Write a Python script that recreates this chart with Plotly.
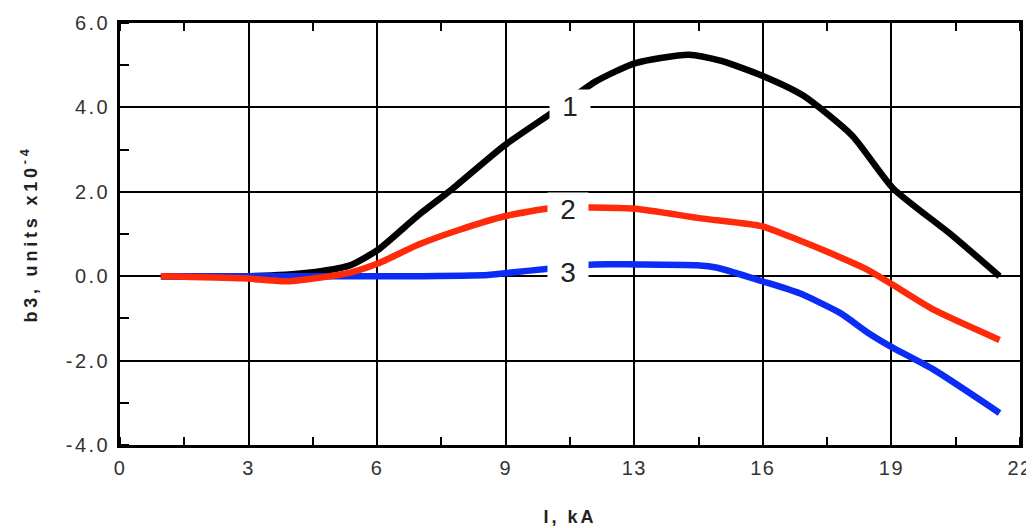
import plotly.graph_objects as go

# Curve 1 (black)
x_black = [1.0, 3.2, 4.6, 5.6, 6.3, 7.3, 8.1, 9.4, 10.6, 11.6, 12.6, 13.9, 14.7, 15.7, 16.7, 17.9, 18.9, 20.3, 21.5]
y_black = [0.0, 0.0, 0.08, 0.25, 0.62, 1.45, 2.05, 3.1, 3.9, 4.6, 5.05, 5.25, 5.1, 4.75, 4.28, 3.33, 2.08, 1.0, 0.0]

# Curve 2 (red)
x_red = [1.0, 3.0, 4.1, 5.6, 6.3, 7.3, 8.3, 9.4, 10.6, 11.5, 12.6, 14.2, 15.7, 16.6, 17.6, 18.3, 18.9, 19.9, 21.5]
y_red = [0.0, -0.05, -0.12, 0.08, 0.3, 0.75, 1.1, 1.42, 1.62, 1.63, 1.6, 1.37, 1.18, 0.85, 0.45, 0.14, -0.21, -0.8, -1.51]

# Curve 3 (blue)
x_blue = [1.0, 4.0, 5.5, 7.0, 9.0, 9.4, 10.6, 11.6, 12.6, 14.1, 14.6, 15.7, 16.6, 17.6, 18.3, 18.9, 19.9, 21.5]
y_blue = [0.0, 0.0, 0.0, 0.0, 0.03, 0.07, 0.19, 0.28, 0.28, 0.26, 0.2, -0.12, -0.4, -0.87, -1.35, -1.7, -2.22, -3.24]

# Axis ticks
x_tickvals = [i * 22 / 7 for i in range(8)]
x_ticktext = ["0", "3", "6", "9", "13", "16", "19", "22"]
y_tickvals = [-4, -2, 0, 2, 4, 6]
y_ticktext = ["-4.0", "-2.0", "0.0", "2.0", "4.0", "6.0"]

# Curve labels
label_text = ["1", "2", "3"]
label_x = [11.0, 10.95, 10.95]
label_y = [4.04, 1.6, 0.1]

FONT = "Liberation Sans, Arial, sans-serif"


def spaced(s, px):
    return f'<span style="letter-spacing:{px}px">{s}</span>'


fig = go.Figure()
for xs, ys, c in [(x_black, y_black, "#000000"), (x_blue, y_blue, "#0a2cf5"), (x_red, y_red, "#ff2a0a")]:
    fig.add_trace(go.Scatter(x=xs, y=ys, mode="lines",
                             line=dict(color=c, width=6.5, shape="spline", smoothing=0.6),
                             showlegend=False))

for t, xx, yy in zip(label_text, label_x, label_y):
    fig.add_annotation(x=xx, y=yy, text=t, showarrow=False, bgcolor="white",
                       width=38, height=30, font=dict(size=28, color="#222", family=FONT))

axis_font = dict(size=20, color="#333", family=FONT)
fig.update_layout(
    width=1026, height=520,
    margin=dict(l=112, r=14, t=15, b=83),
    plot_bgcolor="white", paper_bgcolor="white",
    font=dict(family=FONT, size=20, color="#333"),
    xaxis=dict(range=[0, 22], tickvals=x_tickvals,
               ticktext=[spaced(t, 1.5) for t in x_ticktext], ticks="",
               showgrid=True, gridcolor="black", gridwidth=1.5, zeroline=False,
               showline=True, linecolor="black", linewidth=2.5, mirror="ticks",
               automargin=False, ticklabelstandoff=3,
               minor=dict(tick0=0, dtick=11 / 7, ticks="inside", ticklen=8,
                          tickcolor="black", tickwidth=2, showgrid=False),
               tickfont=axis_font,
               title=dict(text="<b>" + spaced("I, kA", 3) + "</b>",
                          font=dict(size=18, color="#222", family=FONT), standoff=33)),
    yaxis=dict(range=[-4, 6], tickvals=y_tickvals,
               ticktext=[spaced(t, 2.5) for t in y_ticktext], ticks="",
               showgrid=True, gridcolor="black", gridwidth=1.5, zeroline=False,
               showline=True, linecolor="black", linewidth=2.5, mirror=True,
               automargin=False, ticklabelstandoff=3,
               minor=dict(tick0=-5, dtick=1, ticks="inside", ticklen=9,
                          tickcolor="black", tickwidth=2, showgrid=False),
               tickfont=axis_font,
               title=dict(text="<b>" + spaced("b3, units x10<sup>-4</sup>", 3.8) + "</b>",
                          font=dict(size=18, color="#222", family=FONT), standoff=24)),
)
fig.write_html("out.html")
